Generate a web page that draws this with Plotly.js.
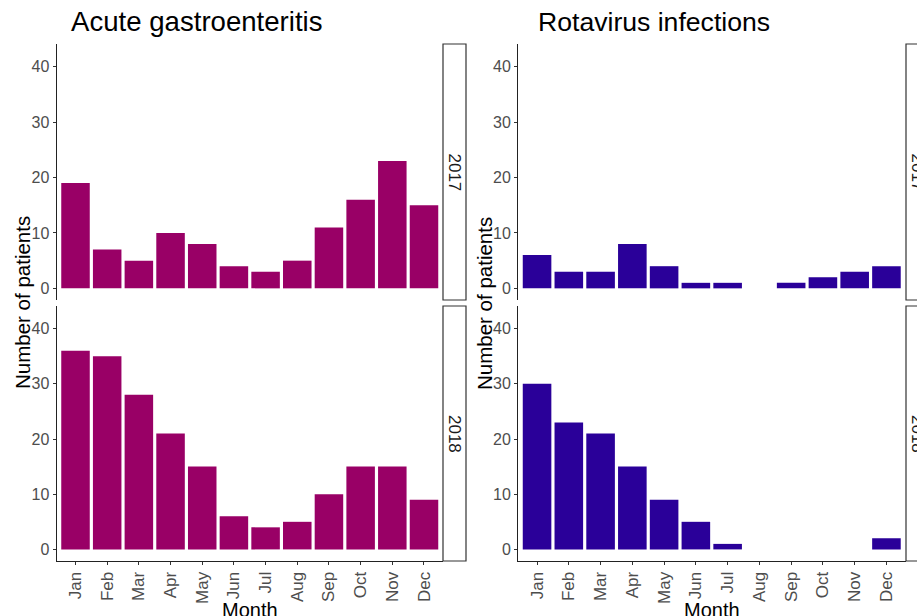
<!DOCTYPE html>
<html>
<head>
<meta charset="utf-8">
<script src="https://cdn.plot.ly/plotly-3.0.1.min.js"></script>
<style>html,body{margin:0;padding:0;background:#fff;overflow:hidden}#plot{width:917px;height:616px}</style>
</head>
<body>
<div id="plot"></div>
<script>
const months = ["Jan","Feb","Mar","Apr","May","Jun","Jul","Aug","Sep","Oct","Nov","Dec"];
const years = ["2017","2018"];
const panelTitles = ["Acute gastroenteritis","Rotavirus infections"];
const age2017 = [19,7,5,10,8,4,3,5,11,16,23,15];
const age2018 = [36,35,28,21,15,6,4,5,10,15,15,9];
const rota2017 = [6,3,3,8,4,1,1,0,1,2,3,4];
const rota2018 = [30,23,21,15,9,5,1,0,0,0,0,2];
const yTicks = [0,10,20,30,40];
const colors = ["#990066","#2a0099"];

const W = 917, H = 616;
const px = v => v / W;
const py = v => 1 - v / H;

const colX = [[56.5, 443], [518, 905.5]];
const rowY = [[44, 300], [306, 561]];
const titleSize = [27.6, 26.6];

const series = [[age2017, age2018],[rota2017, rota2018]];
const data = [];
const layout = {
  width: W, height: H,
  margin: {l:0, r:0, t:0, b:0},
  paper_bgcolor: "#fff", plot_bgcolor: "#fff",
  showlegend: false,
  bargap: 0.1,
  font: {family: "Liberation Sans, Arial, sans-serif"},
  shapes: [], annotations: []
};

let idx = 0;
for (let c = 0; c < 2; c++) {
  for (let r = 0; r < 2; r++) {
    idx++;
    const xa = idx === 1 ? "x" : "x" + idx;
    const ya = idx === 1 ? "y" : "y" + idx;
    data.push({
      type: "bar", x: months, y: series[c][r],
      xaxis: xa, yaxis: ya,
      marker: {color: colors[c]},
      hoverinfo: "x+y"
    });
    const bottom = r === 1;
    layout["xaxis" + (idx === 1 ? "" : idx)] = {
      domain: [px(colX[c][0]), px(colX[c][1])],
      anchor: ya,
      type: "category",
      categoryorder: "array", categoryarray: months,
      range: [-0.6, 11.6],
      showline: bottom, linecolor: "#222", linewidth: 1,
      ticks: bottom ? "outside" : "", ticklen: 3, tickcolor: "#333", tickwidth: 1,
      showticklabels: bottom, tickangle: -90,
      tickfont: {size: 17, color: "#4d4d4d"},
      showgrid: false, zeroline: false, fixedrange: true
    };
    layout["yaxis" + (idx === 1 ? "" : idx)] = {
      domain: [py(rowY[r][1]), py(rowY[r][0])],
      anchor: xa,
      range: [-2.1, 44.1],
      tickvals: yTicks, ticktext: yTicks.map(String),
      showline: true, linecolor: "#222", linewidth: 1,
      ticks: "outside", ticklen: 3, tickcolor: "#333", tickwidth: 1,
      tickfont: {size: 16, color: "#4d4d4d"},
      showgrid: false, zeroline: false, fixedrange: true
    };
    // strip
    const sx0 = colX[c][1] + (c === 0 ? 0 : 0.5);
    const sx1 = sx0 + 23;
    layout.shapes.push({
      type: "rect", xref: "paper", yref: "paper",
      x0: px(sx0), x1: px(sx1), y0: py(rowY[r][1]), y1: py(rowY[r][0]),
      line: {color: "#333", width: 1.2}, fillcolor: "#fff", layer: "above"
    });
    layout.annotations.push({
      xref: "paper", yref: "paper",
      x: px((sx0 + sx1) / 2), y: py((rowY[r][0] + rowY[r][1]) / 2),
      text: years[r], textangle: 90, showarrow: false,
      font: {size: 17, color: "#1a1a1a"},
      xanchor: "center", yanchor: "middle"
    });
  }
  // column title
  layout.annotations.push({
    xref: "paper", yref: "paper",
    x: px(c === 0 ? 69 : 536), y: py(22),
    text: panelTitles[c], showarrow: false,
    font: {size: titleSize[c], color: "#000"},
    xanchor: "left", yanchor: "middle"
  });
  // y title
  layout.annotations.push({
    xref: "paper", yref: "paper",
    x: px(c === 0 ? 23 : 485), y: py(303),
    text: "Number of patients", textangle: -90, showarrow: false,
    font: {size: 20.5, color: "#000"},
    xanchor: "center", yanchor: "middle"
  });
  // x title
  layout.annotations.push({
    xref: "paper", yref: "paper",
    x: px((colX[c][0] + colX[c][1]) / 2), y: py(610),
    text: "Month", showarrow: false,
    font: {size: 20, color: "#000"},
    xanchor: "center", yanchor: "middle"
  });
}

Plotly.newPlot("plot", data, layout, {displayModeBar: false, staticPlot: true});
</script>
</body>
</html>
